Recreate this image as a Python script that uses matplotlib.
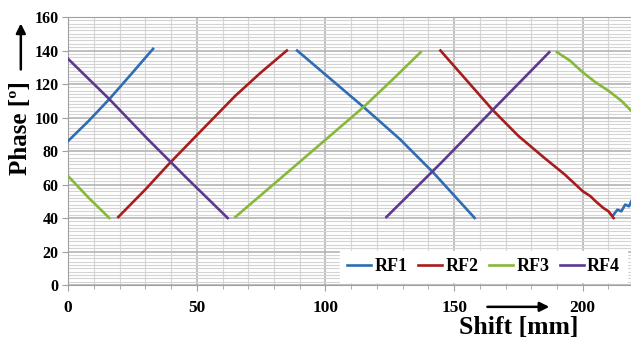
import matplotlib
matplotlib.use('Agg')
import matplotlib.pyplot as plt
from matplotlib.ticker import MultipleLocator

rf1_x = [[0, 8, 16, 24, 33],
         [89, 102, 115, 129, 142, 158],
         [212, 213.5, 215, 216.5, 218, 219.5]]
rf1_y = [[86, 98, 111, 125, 141],
         [140, 123, 106, 87, 67, 40],
         [42, 45, 44, 48, 47, 52]]

rf2_x = [[19.5, 30, 39, 51, 65, 75, 85],
         [144.7, 155, 165, 175, 185, 193, 200, 203, 205, 208, 210, 212]]
rf2_y = [[40.6, 57, 72, 91, 113, 127, 140],
         [140, 122, 104.5, 89, 76, 66, 56, 53, 50, 46, 44, 40]]

rf3_x = [[0, 8, 16],
         [65, 90, 115, 127, 137],
         [190, 195, 200, 205, 210, 215, 219.5]]
rf3_y = [[65, 52, 40],
         [40.6, 73.5, 106.5, 124, 139],
         [139, 134, 127, 121, 116, 110, 103]]

rf4_x = [[0, 16, 31, 46, 62],
         [123.7, 145, 165, 187]]
rf4_y = [[135, 111, 87, 64, 40],
         [40.6, 73, 104.5, 139]]

names = ['RF1', 'RF2', 'RF3', 'RF4']
colors = ['#2e6db4', '#a81c1c', '#86b83a', '#5b3a8e']

serif = 'Liberation Serif'
fig = plt.figure(figsize=(6.31, 3.44), dpi=100)
ax = fig.add_axes([0.108, 0.1715, 0.895, 0.779])

for nm, c, xs, ys in zip(names, colors, [rf1_x, rf2_x, rf3_x, rf4_x], [rf1_y, rf2_y, rf3_y, rf4_y]):
    for i, (x, y) in enumerate(zip(xs, ys)):
        ax.plot(x, y, color=c, lw=1.9, label=nm if i == 0 else None, zorder=3)

ax.set_xlim(0, 219.5)
ax.set_ylim(0, 160)
ax.xaxis.set_major_locator(MultipleLocator(50))
ax.xaxis.set_minor_locator(MultipleLocator(10))
ax.yaxis.set_major_locator(MultipleLocator(20))
ax.yaxis.set_minor_locator(MultipleLocator(2))
ax.grid(which='major', color='#b4b4b4', lw=1.2)
ax.grid(which='minor', color='#d4d4d4', lw=0.8)
ax.set_axisbelow(True)
ax.spines['right'].set_visible(False)
for s in ['left', 'bottom', 'top']:
    ax.spines[s].set_color('#a0a0a0')
ax.tick_params(which='both', colors='#a0a0a0', labelcolor='black', length=4)
ax.tick_params(axis='x', which='minor', length=3)
ax.tick_params(axis='y', which='minor', length=0)
for lab in ax.get_xticklabels():
    lab.set_fontfamily(serif)
    lab.set_fontweight('bold')
    lab.set_fontsize(12.5)
for lab in ax.get_yticklabels():
    lab.set_fontfamily(serif)
    lab.set_fontweight('bold')
    lab.set_fontsize(11.5)
ax.tick_params(axis='x', pad=7)
ax.tick_params(axis='y', pad=3)

leg = ax.legend(loc='lower right', bbox_to_anchor=(0.995, 0.0), ncol=4, frameon=True,
                fancybox=False, handlelength=1.3, handletextpad=0.2, columnspacing=0.6,
                borderaxespad=0.15, prop={'family': serif, 'weight': 'bold', 'size': 13})
leg.get_frame().set_edgecolor('white')
leg.get_frame().set_alpha(1)

# axis titles with arrows, placed in figure coordinates
fig.text(0.033, 0.628, 'Phase [º]', rotation=90, ha='center', va='center',
         family=serif, weight='bold', fontsize=18)
fig.add_artist(matplotlib.patches.FancyArrowPatch((0.033, 0.79), (0.033, 0.94),
               transform=fig.transFigure, arrowstyle='-|>', mutation_scale=14, color='black', lw=1.8))
fig.text(0.822, 0.048, 'Shift [mm]', ha='center', va='center',
         family=serif, weight='bold', fontsize=18.5)
fig.add_artist(matplotlib.patches.FancyArrowPatch((0.768, 0.108), (0.875, 0.108),
               transform=fig.transFigure, arrowstyle='-|>', mutation_scale=14, color='black', lw=1.8))

fig.savefig('out.png', dpi=100)
